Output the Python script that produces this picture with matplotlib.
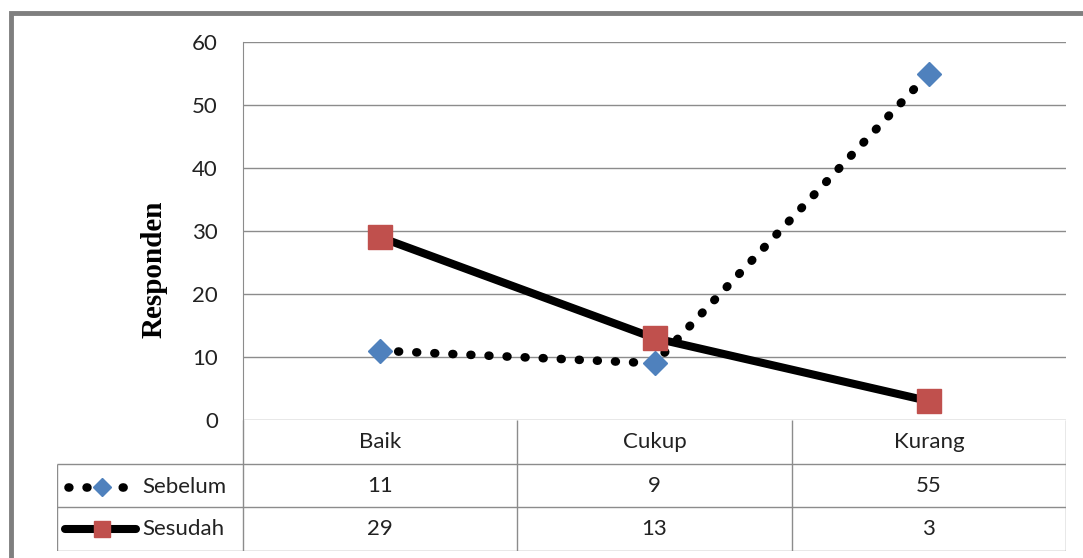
import matplotlib

matplotlib.use("Agg")
import matplotlib.pyplot as plt
from matplotlib.patches import Rectangle


categories = ["Baik", "Cukup", "Kurang"]
sebelum = [11, 9, 55]
sesudah = [29, 13, 3]
series_names = ["Sebelum", "Sesudah"]
y_ticks = [0, 10, 20, 30, 40, 50, 60]

W, H = 1083, 558
GRID = "#8c8c8c"
BLUE = "#4F81BD"
RED = "#C0504D"
FONT = "Lato"
DOT_LW = 6.2
DOTS = (0, (0.1, 2.0))


def px_box(x0, y0, x1, y1):
    return [x0 / W, 1 - y1 / H, (x1 - x0) / W, (y1 - y0) / H]


fig = plt.figure(figsize=(W / 100, H / 100), dpi=100)
fig.patch.set_facecolor("white")

# outer frame (top and left edges only visible)
fig.add_artist(Rectangle((10.5 / W, -0.1), 1.2, 1 - 13 / H + 0.1,
                         transform=fig.transFigure, fill=False,
                         edgecolor="#7f7f7f", linewidth=3.5))

ax = fig.add_axes(px_box(243, 42, 1066, 420))
x = list(range(len(categories)))

ax.plot(x, sebelum, color="black", linewidth=DOT_LW, linestyle=DOTS,
        dash_capstyle="round", zorder=3)
ax.plot(x, sebelum, linestyle="none", marker="D", markersize=12,
        markerfacecolor=BLUE, markeredgecolor=BLUE, zorder=3)
ax.plot(x, sesudah, color="black", linewidth=5.8, solid_capstyle="round",
        marker="s", markersize=17, markerfacecolor=RED,
        markeredgecolor=RED, zorder=4)

ax.set_xlim(-0.5, len(categories) - 0.5)
ax.set_ylim(0, 60)
ax.set_yticks(y_ticks)
ax.set_xticks([])
ax.grid(axis="y", color=GRID, linewidth=1)
ax.set_axisbelow(True)
for side in ["top", "right", "bottom"]:
    ax.spines[side].set_visible(False)
ax.spines["left"].set_color(GRID)
ax.tick_params(axis="y", length=0, pad=18, labelsize=16, labelcolor="#222222")
for lab in ax.get_yticklabels():
    lab.set_fontfamily(FONT)

ax.set_ylabel("Responden", fontsize=21, fontweight="bold",
              fontfamily="Liberation Serif")
ax.yaxis.set_label_coords(-0.092, 0.40)

# data table below the plot
unit = (1066 - 243) / len(categories)
x_left = -0.5 - (243 - 57) / unit
tab = fig.add_axes(px_box(57, 420, 1066, 551))
tab.set_xlim(x_left, len(categories) - 0.5)
tab.set_ylim(3, 0)
tab.axis("off")

tab.hlines([1, 2, 3], x_left, len(categories) - 0.5, color=GRID, linewidth=1)
tab.vlines([c - 0.5 for c in range(len(categories) + 1)], 0, 3,
           color=GRID, linewidth=1)
tab.vlines(x_left, 1, 3, color=GRID, linewidth=1)

for i, cat in enumerate(categories):
    tab.text(i, 0.5, cat, ha="center", va="center", fontsize=16,
             fontfamily=FONT, color="#222222")
for row, values in enumerate([sebelum, sesudah], start=1):
    for i, v in enumerate(values):
        tab.text(i, row + 0.5, str(v), ha="center", va="center",
                 fontsize=16, fontfamily=FONT, color="#222222")

# legend keys in the row headers
key = fig.add_axes(px_box(57, 466, 243, 551))
key.set_xlim(57, 243)
key.set_ylim(551, 466)
key.axis("off")
key.plot([68, 124], [487, 487], color="black", linewidth=DOT_LW,
         linestyle=DOTS, dash_capstyle="round")
key.plot([102], [487], marker="D", markersize=9, color=BLUE)
key.plot([65, 136], [529, 529], color="black", linewidth=5.8,
         solid_capstyle="round")
key.plot([102], [529], marker="s", markersize=12, color=RED)
key.text(142, 487, series_names[0], ha="left", va="center", fontsize=16,
         fontfamily=FONT, color="#222222")
key.text(142, 529, series_names[1], ha="left", va="center", fontsize=16,
         fontfamily=FONT, color="#222222")

fig.savefig("out.png", dpi=100)
